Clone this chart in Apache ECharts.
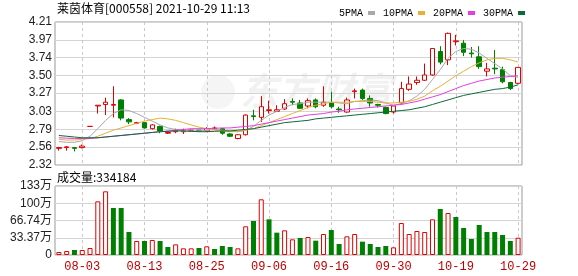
<!DOCTYPE html>
<html><head><meta charset="utf-8">
<script src="https://cdn.jsdelivr.net/npm/echarts@6/dist/echarts.min.js"></script>
<style>html,body{margin:0;padding:0;background:#fff}#c{width:578px;height:276px}</style>
</head><body><div id="c"></div><script>
const dates = ['07-29','07-30','08-02','08-03','08-04','08-05','08-06','08-09','08-10','08-11',
  '08-12','08-13','08-16','08-17','08-18','08-19','08-20','08-23','08-24','08-25',
  '08-26','08-27','08-30','08-31','09-01','09-02','09-03','09-06','09-07','09-08',
  '09-09','09-10','09-13','09-14','09-15','09-16','09-17','09-22','09-23','09-24',
  '09-27','09-28','09-29','09-30','10-08','10-11','10-12','10-13','10-14','10-15',
  '10-18','10-19','10-20','10-21','10-22','10-25','10-26','10-27','10-28','10-29'];
const openP  = [2.54,2.55,2.55,2.55,2.83,3.10,3.12,3.11,3.18,2.92, 2.87,2.88,2.80,2.83,2.74,2.76,2.76,2.77,2.78,2.77,
  2.80,2.80,2.73,2.67,2.72,2.97,2.95,3.04,3.03,3.06, 3.16,3.14,3.10,3.18,3.11,3.14,3.06,3.02,3.29,3.31,
  3.20,3.12,3.08,3.02,3.14,3.32,3.41,3.44,3.51,3.82, 3.71,3.95,3.93,3.80,3.75,3.56,3.60,3.58,3.41,3.40];
const closeP = [2.55,2.56,2.54,2.57,2.83,3.11,3.15,3.12,2.94,2.89, 2.88,2.81,2.85,2.77,2.75,2.78,2.77,2.78,2.77,2.80,
  2.81,2.74,2.70,2.72,2.98,2.96,3.09,3.05,3.05,3.13, 3.15,3.07,3.17,3.09,3.15,3.09,3.05,3.18,3.30,3.20,
  3.14,3.11,3.00,3.10,3.33,3.39,3.44,3.51,3.86,3.68, 4.06,3.96,3.81,3.79,3.62,3.59,3.59,3.42,3.33,3.61];
const lowP   = [2.51,2.51,2.50,2.54,2.83,3.00,2.98,2.95,2.91,2.86, 2.86,2.80,2.79,2.74,2.73,2.74,2.73,2.76,2.76,2.76,
  2.79,2.72,2.69,2.66,2.71,2.91,2.89,3.00,3.02,3.05, 3.11,3.06,3.07,3.07,3.09,3.07,3.01,3.01,3.20,3.18,
  3.09,3.08,2.99,3.00,3.12,3.30,3.38,3.43,3.50,3.65, 3.64,3.90,3.76,3.74,3.59,3.49,3.52,3.40,3.31,3.39];
const highP  = [2.56,2.57,2.55,2.59,2.83,3.11,3.21,3.36,3.19,2.94, 2.89,2.89,2.86,2.84,2.77,2.80,2.80,2.79,2.78,2.82,
  2.83,2.81,2.74,2.73,2.99,3.05,3.23,3.17,3.11,3.19, 3.20,3.18,3.20,3.20,3.36,3.29,3.09,3.21,3.33,3.33,
  3.24,3.13,3.09,3.10,3.42,3.49,3.49,3.66,3.86,3.89, 4.07,4.04,3.97,3.88,3.89,3.67,3.84,3.62,3.42,3.61];
const ma5  = [2.63,2.62,2.62,2.64,2.70,2.80,2.91,3.00,3.05,3.04, 3.00,2.95,2.90,2.85,2.81,2.79,2.77,2.77,2.77,2.78,
  2.79,2.78,2.77,2.76,2.78,2.83,2.91,2.98,3.03,3.08, 3.12,3.13,3.15,3.15,3.15,3.15,3.14,3.13,3.16,3.17,
  3.18,3.17,3.14,3.11,3.13,3.17,3.23,3.32,3.45,3.58, 3.73,3.82,3.86,3.85,3.80,3.73,3.66,3.59,3.50,3.48];
const ma10 = [2.66,2.65,2.65,2.66,2.67,2.70,2.74,2.78,2.81,2.84, 2.87,2.90,2.92,2.94,2.93,2.91,2.88,2.85,2.82,2.80,
  2.78,2.77,2.76,2.76,2.78,2.80,2.84,2.88,2.92,2.96, 3.00,3.04,3.08,3.11,3.13,3.15,3.15,3.15,3.16,3.16,
  3.16,3.15,3.14,3.14,3.15,3.16,3.19,3.23,3.30,3.36, 3.43,3.50,3.56,3.62,3.67,3.71,3.73,3.73,3.71,3.68];
const ma20 = [2.68,2.675,2.67,2.67,2.67,2.68,2.69,2.70,2.71,2.72, 2.73,2.74,2.75,2.76,2.77,2.78,2.79,2.80,2.80,2.80,
  2.805,2.81,2.81,2.82,2.83,2.84,2.86,2.88,2.90,2.92, 2.94,2.96,2.98,2.99,3.00,3.02,3.03,3.05,3.06,3.07,
  3.08,3.09,3.10,3.11,3.12,3.14,3.16,3.19,3.22,3.25, 3.29,3.33,3.37,3.40,3.43,3.45,3.47,3.48,3.49,3.50];
const ma30 = [2.71,2.70,2.69,2.68,2.68,2.68,2.69,2.70,2.71,2.72, 2.73,2.74,2.75,2.76,2.765,2.77,2.77,2.765,2.76,2.76,
  2.765,2.77,2.77,2.78,2.79,2.80,2.82,2.84,2.86,2.88, 2.89,2.90,2.91,2.93,2.94,2.95,2.96,2.97,2.98,2.99,
  3.00,3.01,3.02,3.03,3.04,3.05,3.07,3.09,3.12,3.15, 3.18,3.21,3.24,3.26,3.28,3.30,3.32,3.33,3.35,3.38];
const volWan = [5.8,7.7,9.7,9.7,13.5,103.8,123.2,90.9,90.9,44.5, 27.1,27.1,29.0,27.1,15.5,20.6,12.9,12.9,13.5,16.8,
  11.6,17.4,15.5,12.9,55.5,65.8,107.7,69.0,43.2,47.7, 30.3,32.9,34.8,27.7,40.6,48.4,21.3,36.1,40.6,25.8,
  21.3,15.5,17.4,14.8,61.9,40.6,46.4,44.5,69.0,89.0, 81.2,73.5,52.2,31.0,58.0,44.5,44.5,38.7,27.1,33.4184];
const volUp = [1,1,0,1,1,1,1,0,0,0, 1,0,1,0,0,1,1,1,0,1, 0,0,0,1,1,0,1,0,0,1,
  1,0,1,0,1,0,0,1,1,0, 0,0,0,1,1,1,1,1,1,0, 1,0,0,0,0,0,0,0,0,1];
const priceTicks = [2.32,2.56,2.79,3.03,3.27,3.50,3.74,3.97,4.21];
const priceTickLabels = ['2.32','2.56','2.79','3.03','3.27','3.50','3.74','3.97','4.21'];
const volTicks = [0,33.37,66.74,100.11,133.48];
const volTickLabels = ['0','33.37万','66.74万','100万','133万'];
const labelDates = ['08-03','08-13','08-25','09-06','09-16','09-30','10-19','10-29'];
const maNames = ['5PMA','10PMA','20PMA','30PMA'];
const titleText = '莱茵体育[000558] 2021-10-29 11:13';
const volText = '成交量:334184';

const RED = '#e00000', GREEN = '#008000';
const isLabel = (i, v) => labelDates.indexOf(v) >= 0;
const candleData = dates.map((d, i) => [openP[i], closeP[i], lowP[i], highP[i]]);
const volData = volWan.map((v, i) => ({
  value: v,
  itemStyle: volUp[i] ? {color: '#fff', borderColor: RED, borderWidth: 1} : {color: GREEN, borderColor: GREEN, borderWidth: 0}
}));
const fontAxis = "'Liberation Sans', 'Noto Sans CJK SC', sans-serif";
const maColors = ['#a8a8a8', '#e8b038', '#e040e0', '#0b6a3c'];
const maData = [ma5, ma10, ma20, ma30];

const chart = echarts.init(document.getElementById('c'), null, {renderer: 'canvas'});
chart.setOption({
  animation: false,
  backgroundColor: '#fff',
  grid: [
    {left: 55, right: 56, top: 22, height: 143, show: true, borderColor: '#999', borderWidth: 1},
    {left: 55, right: 56, top: 186, height: 69, show: true, borderColor: '#999', borderWidth: 1}
  ],
  legend: {
    data: maNames, left: 334, top: 3, align: 'right', icon: 'rect',
    itemWidth: 7, itemHeight: 4, itemGap: 8,
    textStyle: {fontFamily: "'Liberation Mono', monospace", fontSize: 10, color: '#000', padding: [0, 0, 0, 0]}
  },
  graphic: [
    {type: 'circle', z: 0, silent: true, shape: {cx: 218, cy: 92, r: 17},
      style: {fill: 'rgba(0,0,0,0.04)'}},
    {type: 'text', left: 240, top: 72, z: 0, silent: true,
      style: {text: '东方财富', font: 'bold italic 38px "Noto Sans CJK SC"', fill: 'rgba(0,0,0,0.055)'}},
    {type: 'text', left: 57, top: 2, style: {text: titleText, font: '12px "Noto Sans CJK SC"', fill: '#000'}},
    {type: 'text', left: 57, top: 171, style: {text: volText, font: '12px "Noto Sans CJK SC"', fill: '#000'}}
  ],
  xAxis: [
    {type: 'category', gridIndex: 0, data: dates, boundaryGap: true,
      axisLine: {show: false}, axisTick: {show: false}, axisLabel: {show: false},
      splitLine: {show: true, interval: isLabel, alignWithLabel: true, lineStyle: {color: '#c8c8c8', type: [3, 3]}}},
    {type: 'category', gridIndex: 1, data: dates, boundaryGap: true,
      axisLine: {show: false}, axisTick: {show: false, interval: isLabel, alignWithLabel: true},
      axisLabel: {interval: isLabel, color: '#c00000', fontFamily: "'Liberation Mono', monospace", fontSize: 12, margin: 6},
      splitLine: {show: true, interval: isLabel, alignWithLabel: true, lineStyle: {color: '#c8c8c8', type: [3, 3]}}}
  ],
  yAxis: [
    {type: 'value', gridIndex: 0, min: 2.32, max: 4.21, scale: true,
      axisLine: {show: false}, axisTick: {show: false, customValues: priceTicks},
      axisLabel: {customValues: priceTicks, margin: 3, color: '#222', fontFamily: fontAxis, fontSize: 12,
        formatter: v => { const k = priceTicks.indexOf(v); return k >= 0 ? priceTickLabels[k] : ''; }},
      splitLine: {show: true, lineStyle: {color: '#d4d4d4'}}},
    {type: 'value', gridIndex: 1, min: 0, max: 133.48,
      axisLine: {show: false}, axisTick: {show: false, customValues: volTicks},
      axisLabel: {customValues: volTicks, margin: 3, color: '#222', fontFamily: fontAxis, fontSize: 12,
        formatter: v => { const k = volTicks.indexOf(v); return k >= 0 ? volTickLabels[k] : ''; }},
      splitLine: {show: true, lineStyle: {color: '#d4d4d4'}}}
  ],
  series: [
    {type: 'candlestick', xAxisIndex: 0, yAxisIndex: 0, data: candleData, barWidth: 5,
      itemStyle: {color: '#fff', color0: GREEN, borderColor: RED, borderColor0: GREEN, borderColorDoji: RED, borderWidth: 1}},
    ...maNames.map((n, k) => ({
      name: n, type: 'line', xAxisIndex: 0, yAxisIndex: 0, data: maData[k], symbol: 'none',
      itemStyle: {color: maColors[k]}, lineStyle: {color: maColors[k], width: 1}
    })),
    {type: 'bar', xAxisIndex: 1, yAxisIndex: 1, data: volData, barWidth: 5}
  ]
});
</script></body></html>
